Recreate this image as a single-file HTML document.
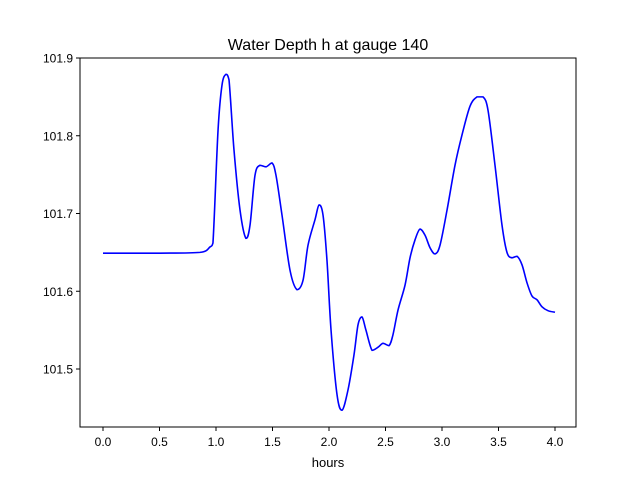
<!DOCTYPE html>
<html><head><meta charset="utf-8"><style>
body{margin:0;background:#fff;}
svg{display:block;font-family:"Liberation Sans","DejaVu Sans",sans-serif;}
</style></head><body>
<svg id="chart" width="640" height="480">
<rect x="0" y="0" width="640" height="480" fill="#fff"/>
<text x="328" y="50" font-size="16" text-anchor="middle">Water Depth h at gauge 140</text>
<g id="ticks"></g>
<path id="line" fill="none" stroke="#0000ff" stroke-width="1.6"/>
<rect x="80" y="58" width="496" height="369" fill="none" stroke="#000" stroke-width="1"/>
<text x="328" y="467" font-size="13" text-anchor="middle">hours</text>
</svg>
<script>
const hours=[0,0.504,0.858,0.947,0.973,1.018,1.053,1.088,1.115,1.159,1.212,1.265,1.301,1.345,1.389,1.442,1.496,1.531,1.584,1.655,1.717,1.770,1.814,1.876,1.912,1.947,1.982,2.018,2.071,2.115,2.168,2.221,2.257,2.292,2.327,2.381,2.434,2.478,2.531,2.566,2.611,2.673,2.717,2.761,2.805,2.850,2.894,2.938,2.982,3.044,3.115,3.177,3.248,3.310,3.363,3.407,3.469,3.531,3.575,3.619,3.664,3.708,3.752,3.796,3.841,3.885,3.938,4.0];
const depth=[101.649,101.649,101.650,101.657,101.662,101.807,101.865,101.879,101.872,101.782,101.705,101.668,101.685,101.749,101.762,101.760,101.765,101.749,101.698,101.627,101.602,101.614,101.659,101.692,101.711,101.698,101.640,101.550,101.467,101.447,101.473,101.518,101.557,101.567,101.550,101.524,101.528,101.533,101.530,101.544,101.576,101.608,101.643,101.666,101.680,101.672,101.656,101.648,101.659,101.704,101.762,101.801,101.838,101.850,101.850,101.833,101.762,101.685,101.650,101.643,101.645,101.634,101.611,101.594,101.589,101.580,101.575,101.573];
const xTicks=[0,0.5,1,1.5,2,2.5,3,3.5,4];
const xTickLabels=["0.0","0.5","1.0","1.5","2.0","2.5","3.0","3.5","4.0"];
const yTicks=[101.5,101.6,101.7,101.8,101.9];
const yTickLabels=["101.5","101.6","101.7","101.8","101.9"];
const X=v=>103+v*113;
const Y=v=>58+(101.9-v)*777.5;
const NS="http://www.w3.org/2000/svg";
const g=document.getElementById('ticks');
function mk(tag,attrs){const e=document.createElementNS(NS,tag);for(const k in attrs)e.setAttribute(k,attrs[k]);g.appendChild(e);return e;}
xTicks.forEach((t,i)=>{
 const l=mk('line',{x1:X(t),x2:X(t),y1:427,y2:431,stroke:'#000'});
 
 
 const tx=mk('text',{x:X(t),y:446,'font-size':12,'text-anchor':'middle'});
 tx.textContent=xTickLabels[i];
 
 
});
yTicks.forEach((t,i)=>{
 const l=mk('line',{x1:76,x2:80,y1:Y(t),y2:Y(t),stroke:'#000'});
 
 
 const tx=mk('text',{x:73,y:Y(t)+4.5,'font-size':12,'text-anchor':'end'});
 tx.textContent=yTickLabels[i];
 
 
});
const p=hours.map((h,i)=>[X(h),Y(depth[i])]);
const clamp=(v,a,b)=>Math.max(Math.min(a,b),Math.min(Math.max(a,b),v));
let d='M'+p[0][0]+','+p[0][1];
for(let i=0;i<p.length-1;i++){
 const p0=p[Math.max(0,i-1)],p1=p[i],p2=p[i+1],p3=p[Math.min(p.length-1,i+2)];
 const c1=[p1[0]+(p2[0]-p0[0])/6,clamp(p1[1]+(p2[1]-p0[1])/6,p1[1],p2[1])];
 const c2=[p2[0]-(p3[0]-p1[0])/6,clamp(p2[1]-(p3[1]-p1[1])/6,p1[1],p2[1])];
 d+=' C'+c1+' '+c2+' '+p2;
}
document.getElementById('line').setAttribute('d',d);
</script>
</body></html>
